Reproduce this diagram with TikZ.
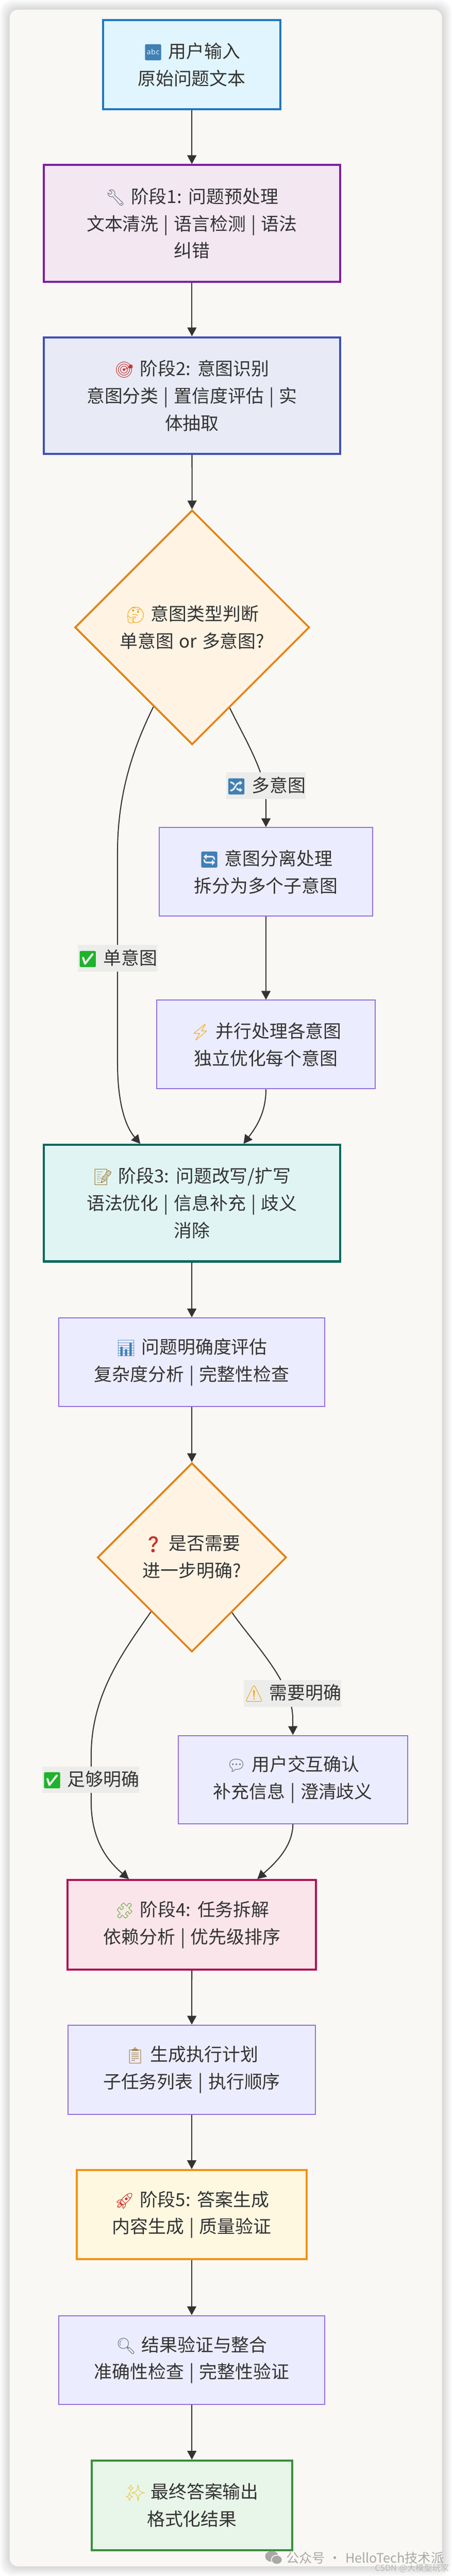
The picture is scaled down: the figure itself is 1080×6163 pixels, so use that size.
\documentclass[tikz,border=0pt]{standalone}
\usepackage{fontspec}
\setmainfont[WordSpace=1.3]{Noto Sans CJK SC}
\newfontfamily\emofont{Noto Emoji}
\usetikzlibrary{arrows.meta, shapes.geometric}
\newcommand{\emo}[2]{{\color{#1}\emofont\fontsize{38}{65}\selectfont #2}}

\begin{document}
\begin{tikzpicture}[x=1pt, y=-1pt,
		base/.style={rectangle, align=center, inner sep=0pt, text=ink, font=\fontsize{43}{65}\selectfont},
		plain/.style={base, draw=plainline, fill=plainfill, line width=2.5pt},
		stage/.style={base, line width=5pt},
		decision/.style={base, diamond, shape aspect=1, draw=decline, fill=decfill, line width=4.5pt},
		flow/.style={draw=ink, line width=2.5pt, -{Triangle[length=21pt, width=22pt]}},
		edgelabel/.style={rectangle, fill=labelfill, inner sep=0pt, minimum height=64pt, text=ink, font=\fontsize{43}{65}\selectfont}
	]
		\definecolor{ink}{HTML}{333333}
		\definecolor{panel}{HTML}{FAF8F4}
		\definecolor{plainline}{HTML}{9370DB}
		\definecolor{plainfill}{HTML}{ECECFF}
		\definecolor{decline}{HTML}{E38318}
		\definecolor{decfill}{HTML}{FFF3E3}
		\definecolor{labelfill}{HTML}{ECECEA}
		\definecolor{markgray}{HTML}{A8A8A6}
		\definecolor{inputline}{HTML}{1F78C1}
		\definecolor{inputfill}{HTML}{E1F5FE}
		\definecolor{onefill}{HTML}{F3E7F2}
		\definecolor{oneline}{HTML}{7B1FA2}
		\definecolor{twofill}{HTML}{E8EAF6}
		\definecolor{twoline}{HTML}{3F51B5}
		\definecolor{threefill}{HTML}{E0F5F3}
		\definecolor{threeline}{HTML}{00695C}
		\definecolor{fourfill}{HTML}{FAE5EB}
		\definecolor{fourline}{HTML}{AD1457}
		\definecolor{fivefill}{HTML}{FFF8E1}
		\definecolor{fiveline}{HTML}{F39212}
		\definecolor{finalfill}{HTML}{E8F5E9}
		\definecolor{finalline}{HTML}{388E3C}
		\definecolor{emoblue}{HTML}{3F80B5}
		\definecolor{emogray}{HTML}{66727E}
		\definecolor{emored}{HTML}{C8332C}
		\definecolor{emoyellow}{HTML}{EDA70F}
		\definecolor{emogreen}{HTML}{1DB32A}
		\definecolor{emobrown}{HTML}{A5803F}
		\definecolor{emolime}{HTML}{5FB02C}
		\definecolor{emopale}{HTML}{EBC945}

		\useasboundingbox (0,0) rectangle (1080,6163);
		\fill[white] (0,0) rectangle (1080,6163);
		\foreach \s in {2, 5, ..., 23}{
				\fill[black, opacity=0.018, rounded corners=28pt] (23-\s,23-\s) rectangle (1057+\s,6140+\s);
			}
		\fill[panel, rounded corners=20pt] (23,23) rectangle (1057,6140);

		\node[stage, draw=inputline, fill=inputfill, minimum width=425pt, minimum height=214pt] (input) at (458.5,154.5)
			{\emo{emoblue}{🔤} 用户输入\\原始问题文本};
		\node[stage, draw=oneline, fill=onefill, minimum width=708pt, minimum height=279pt] (stage1) at (459,534.5)
			{\emo{emogray}{🔧} 阶段1: 问题预处理\\文本清洗 | 语言检测 | 语法\\纠错};
		\node[stage, draw=twoline, fill=twofill, minimum width=708pt, minimum height=279pt] (stage2) at (459,946.5)
			{\emo{emored}{🎯} 阶段2: 意图识别\\意图分类 | 置信度评估 | 实\\体抽取};
		\node[decision, minimum width=561pt, minimum height=561pt] (decide1) at (459.5,1501)
			{\emo{emoyellow}{🤔} 意图类型判断\\单意图 or 多意图?};
		\node[plain, minimum width=510pt, minimum height=212pt] (split) at (636,2086)
			{\emo{emoblue}{🔄} 意图分离处理\\拆分为多个子意图};
		\node[plain, minimum width=522pt, minimum height=212pt] (parallel) at (636,2499)
			{\emo{emoyellow}{⚡} 并行处理各意图\\独立优化每个意图};
		\node[stage, draw=threeline, fill=threefill, minimum width=708pt, minimum height=279pt] (stage3) at (459,2878.5)
			{\emo{emobrown}{📝} 阶段3: 问题改写/扩写\\语法优化 | 信息补充 | 歧义\\消除};
		\node[plain, minimum width=635pt, minimum height=212pt] (clarity) at (458.5,3259)
			{\emo{emoblue}{📊} 问题明确度评估\\复杂度分析 | 完整性检查};
		\node[decision, minimum width=452pt, minimum height=452pt] (decide2) at (459,3726)
			{\emo{emored}{❓} 是否需要\\进一步明确?};
		\node[plain, minimum width=549pt, minimum height=211pt] (confirm) at (700.5,4257.5)
			{\emo{emogray}{💬} 用户交互确认\\补充信息 | 澄清歧义};
		\node[stage, draw=fourline, fill=fourfill, minimum width=594pt, minimum height=214pt] (stage4) at (459,4605)
			{\emo{emolime}{🧩} 阶段4: 任务拆解\\依赖分析 | 优先级排序};
		\node[plain, minimum width=591pt, minimum height=213pt] (plan) at (458.5,4951.5)
			{\emo{emobrown}{📋} 生成执行计划\\子任务列表 | 执行顺序};
		\node[stage, draw=fiveline, fill=fivefill, minimum width=549pt, minimum height=213pt] (stage5) at (458.5,5298.5)
			{\emo{emored}{🚀} 阶段5: 答案生成\\内容生成 | 质量验证};
		\node[plain, minimum width=635pt, minimum height=212pt] (verify) at (458.5,5646)
			{\emo{emogray}{🔍} 结果验证与整合\\准确性检查 | 完整性验证};
		\node[stage, draw=finalline, fill=finalfill, minimum width=480pt, minimum height=214pt] (final) at (459,5994)
			{\emo{emopale}{✨} 最终答案输出\\格式化结果};

		\draw[flow] (input) -- (stage1);
		\draw[flow] (stage1) -- (stage2);
		\draw[flow] (stage2) -- (decide1);
		\draw[flow] (decide1.295.25) .. controls (588,1772) and (636,1850) .. (636,1915) -- (split);
		\draw[flow] (split) -- (parallel);
		\draw[flow] (decide1.244.75) .. controls (318,1790) and (281,1900) .. (281,2040) -- (281,2540) .. controls (281,2640) and (300,2695) .. (stage3.131.2);
		\draw[flow] (parallel.south) .. controls (636,2665) and (610,2700) .. (stage3.49.5);
		\draw[flow] (stage3) -- (clarity);
		\draw[flow] (clarity) -- (decide2);
		\draw[flow] (decide2.306.1) .. controls (605,3930) and (700,4025) .. (700,4110) -- (confirm.north);
		\draw[flow] (decide2.233.9) .. controls (300,3945) and (218,4050) .. (218,4200) -- (218,4310) .. controls (218,4400) and (255,4450) .. (stage4.144.3);
		\draw[flow] (confirm.south) .. controls (700,4420) and (655,4460) .. (stage4.35.3);
		\draw[flow] (stage4) -- (plan);
		\draw[flow] (plan) -- (stage5);
		\draw[flow] (stage5) -- (verify);
		\draw[flow] (verify) -- (final);

		\node[edgelabel, minimum width=185pt] (labelmulti) at (636,1880) {\emo{emoblue}{🔀} 多意图};
		\node[edgelabel, minimum width=186pt] (labelsingle) at (281,2293) {\emo{emogreen}{✅} 单意图};
		\node[edgelabel, minimum width=229pt] (labelneed) at (700,4051) {\emo{emoyellow}{⚠} 需要明确};
		\node[edgelabel, minimum width=229pt] (labelenough) at (217,4258) {\emo{emogreen}{✅} 足够明确};

		\fill[markgray] (650,6116) ellipse (16 and 13);
		\fill[markgray, draw=panel, line width=2pt] (662,6124) ellipse (13 and 11);
		\node[anchor=west, inner sep=0pt, text=markgray, font=\fontsize{31}{36}\selectfont] (wechat) at (684,6120) {公众号 · HelloTech技术派};
		\node[anchor=east, inner sep=0pt, text=markgray!80, font=\fontsize{20}{24}\selectfont] (csdn) at (1074,6145) {CSDN @大模型玩家};
	\end{tikzpicture}
\end{document}
